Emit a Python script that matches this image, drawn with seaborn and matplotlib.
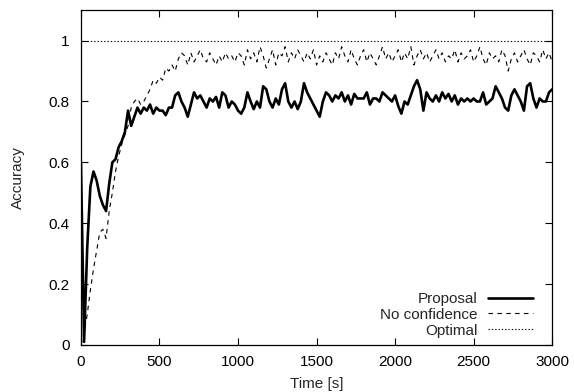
import numpy as np
import matplotlib
matplotlib.use("Agg")
import matplotlib.pyplot as plt
import seaborn as sns

# time axis, one sample every 20 s
time_s = np.arange(0, 3001, 20)

proposal = [
    0.60, 0.01, 0.32, 0.52, 0.57, 0.54, 0.49, 0.46, 0.44, 0.53,
    0.60, 0.61, 0.65, 0.67, 0.70, 0.77, 0.72, 0.75, 0.78, 0.76,
    0.78, 0.77, 0.79, 0.76, 0.78, 0.77, 0.77, 0.755, 0.78, 0.78,
    0.82, 0.83, 0.80, 0.78, 0.75, 0.79, 0.83, 0.81, 0.82, 0.80,
    0.78, 0.81, 0.80, 0.815, 0.78, 0.83, 0.82, 0.78, 0.80, 0.79,
    0.77, 0.76, 0.78, 0.83, 0.80, 0.775, 0.80, 0.78, 0.85, 0.84,
    0.80, 0.78, 0.81, 0.79, 0.84, 0.86, 0.80, 0.78, 0.80, 0.775,
    0.80, 0.86, 0.83, 0.81, 0.79, 0.77, 0.75, 0.80, 0.83, 0.82,
    0.80, 0.82, 0.81, 0.83, 0.80, 0.82, 0.79, 0.825, 0.81, 0.81,
    0.81, 0.83, 0.79, 0.81, 0.81, 0.80, 0.83, 0.82, 0.81, 0.80,
    0.82, 0.785, 0.76, 0.80, 0.79, 0.82, 0.85, 0.87, 0.84, 0.77,
    0.83, 0.81, 0.80, 0.82, 0.80, 0.83, 0.81, 0.825, 0.80, 0.82,
    0.79, 0.81, 0.80, 0.81, 0.80, 0.81, 0.80, 0.80, 0.83, 0.79,
    0.80, 0.81, 0.85, 0.83, 0.81, 0.78, 0.77, 0.82, 0.84, 0.82,
    0.80, 0.77, 0.85, 0.86, 0.81, 0.78, 0.81, 0.80, 0.80, 0.83,
    0.84,
]

no_confidence = [
    0.00, 0.04, 0.10, 0.18, 0.25, 0.31, 0.37, 0.38, 0.35, 0.44,
    0.50, 0.57, 0.62, 0.66, 0.69, 0.72, 0.78, 0.80, 0.81, 0.79,
    0.80, 0.82, 0.84, 0.87, 0.86, 0.88, 0.87, 0.91, 0.90, 0.92,
    0.90, 0.94, 0.96, 0.95, 0.92, 0.96, 0.93, 0.95, 0.97, 0.94,
    0.93, 0.96, 0.94, 0.92, 0.95, 0.93, 0.96, 0.94, 0.95, 0.93,
    0.96, 0.95, 0.92, 0.97, 0.94, 0.96, 0.93, 0.98, 0.95, 0.91,
    0.94, 0.97, 0.92, 0.96, 0.95, 0.98, 0.93, 0.96, 0.94, 0.97,
    0.95, 0.93, 0.96, 0.94, 0.97, 0.92, 0.95, 0.93, 0.96, 0.94,
    0.92, 0.96, 0.94, 0.98, 0.95, 0.93, 0.97, 0.94, 0.92, 0.95,
    0.97, 0.93, 0.96, 0.94, 0.92, 0.95, 0.98, 0.94, 0.96, 0.93,
    0.95, 0.97, 0.93, 0.96, 0.94, 0.98, 0.92, 0.95, 0.97, 0.94,
    0.96, 0.93, 0.95, 0.97, 0.94, 0.96, 0.93, 0.95, 0.94, 0.97,
    0.93, 0.96, 0.94, 0.95, 0.97, 0.93, 0.95, 0.98, 0.94, 0.92,
    0.96, 0.94, 0.95, 0.93, 0.97, 0.95, 0.90, 0.94, 0.96, 0.93,
    0.95, 0.97, 0.94, 0.92, 0.96, 0.95, 0.93, 0.97, 0.94, 0.96,
    0.93,
]

# optimal is flat at 1 after the first instant
optimal_time = [0, 0, 3000]
optimal = [0.0, 1.0, 1.0]

x_ticks = [0, 500, 1000, 1500, 2000, 2500, 3000]
y_ticks = [0, 0.2, 0.4, 0.6, 0.8, 1.0]
y_tick_labels = ["0", "0.2", "0.4", "0.6", "0.8", "1"]

FS = 11


def main():
    sns.set_style("ticks")
    plt.rcParams["font.family"] = ["Liberation Sans", "DejaVu Sans"]
    plt.rcParams["font.size"] = FS

    fig = plt.figure(figsize=(5.74, 3.92), dpi=100)
    ax = fig.add_axes([0.141, 0.120, 0.821, 0.854])

    sns.lineplot(x=time_s, y=proposal, ax=ax, color="black", lw=1.9,
                 label="Proposal")
    sns.lineplot(x=time_s, y=no_confidence, ax=ax, color="black", lw=0.8,
                 label="No confidence")
    ax.lines[-1].set_linestyle((0, (4, 4)))
    sns.lineplot(x=optimal_time, y=optimal, ax=ax, color="black", lw=0.8,
                 label="Optimal", sort=False, estimator=None)
    ax.lines[-1].set_linestyle((0, (1.2, 1.8)))

    ax.set_xlim(0, 3000)
    ax.set_ylim(0, 1.1)
    ax.set_xticks(x_ticks)
    ax.set_xticklabels([str(v) for v in x_ticks])
    ax.set_yticks(y_ticks)
    ax.set_yticklabels(y_tick_labels)
    ax.tick_params(direction="in", length=5, width=0.8, top=True, right=True,
                   labelsize=FS, colors="black")
    ax.tick_params(axis="y", pad=8)
    ax.tick_params(axis="x", pad=7)
    for sp in ax.spines.values():
        sp.set_visible(True)
        sp.set_linewidth(0.9)
        sp.set_color("black")

    ax.set_xlabel("Time [s]", fontsize=FS, labelpad=6)
    ax.set_ylabel("Accuracy", fontsize=FS, labelpad=17)

    ax.legend(loc="lower right", frameon=False, markerfirst=False,
              handlelength=3.0, handletextpad=0.65, labelspacing=0.12,
              borderpad=0, borderaxespad=0, fontsize=FS,
              bbox_to_anchor=(0.96, 0.022))

    fig.savefig("out.png", dpi=100)
    plt.close(fig)


if __name__ == "__main__":
    main()
